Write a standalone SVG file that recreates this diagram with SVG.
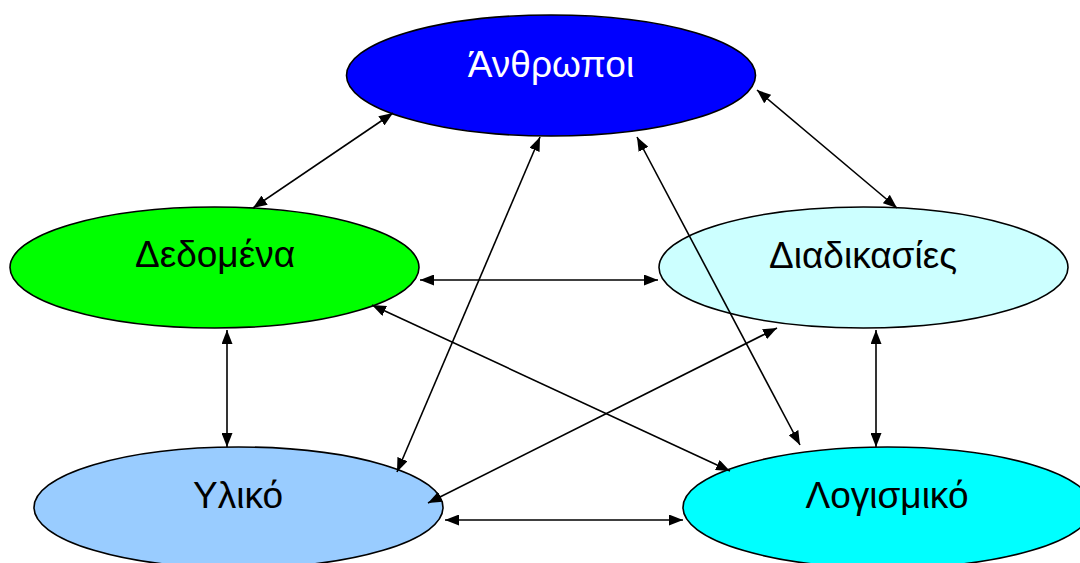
<svg xmlns="http://www.w3.org/2000/svg" width="1080" height="563" viewBox="0 0 1080 563">
  <defs>
    <marker id="arrow" viewBox="0 0 14 11" refX="14" refY="5.5" markerWidth="14" markerHeight="11" markerUnits="userSpaceOnUse" orient="auto-start-reverse">
      <path d="M0,0 L14,5.5 L0,11 z" fill="#000"/>
    </marker>
    <style>
      .node { stroke: #000; stroke-width: 1.6; }
      .label { font-family: "Liberation Sans", Arial, sans-serif; font-size: 37px; text-anchor: middle; fill: #000; }
      .edge { stroke: #000; stroke-width: 1.6; fill: none; marker-start: url(#arrow); marker-end: url(#arrow); }
    </style>
  </defs>
  <rect width="1080" height="563" fill="#fff"/>

  <g id="anthropoi">
    <ellipse class="node" cx="551" cy="75.5" rx="204.5" ry="60.5" fill="#0000ff"/>
    <text class="label" x="551" y="77" style="fill:#fff">Άνθρωποι</text>
  </g>
  <g id="dedomena">
    <ellipse class="node" cx="214.5" cy="267.5" rx="204.5" ry="60.5" fill="#00ff00"/>
    <text class="label" x="215" y="267">Δεδομένα</text>
  </g>
  <g id="diadikasies">
    <ellipse class="node" cx="863.5" cy="267.5" rx="204.5" ry="60.5" fill="#ccffff"/>
    <text class="label" x="863" y="268">Διαδικασίες</text>
  </g>
  <g id="yliko">
    <ellipse class="node" cx="238.5" cy="507.5" rx="204.5" ry="60.5" fill="#99ccff"/>
    <text class="label" x="238" y="508">Υλικό</text>
  </g>
  <g id="logismiko">
    <ellipse class="node" cx="887.5" cy="507.5" rx="204.5" ry="60.5" fill="#00ffff"/>
    <text class="label" x="887" y="508">Λογισμικό</text>
  </g>

  <g id="connectors">
    <line class="edge" x1="393" y1="113" x2="253" y2="208"/>
    <line class="edge" x1="757" y1="90" x2="897" y2="208"/>
    <line class="edge" x1="540" y1="137" x2="397" y2="472"/>
    <line class="edge" x1="637" y1="137" x2="800" y2="445"/>
    <line class="edge" x1="420" y1="280" x2="658" y2="280"/>
    <line class="edge" x1="372" y1="305" x2="730" y2="471"/>
    <line class="edge" x1="227" y1="330" x2="227" y2="447"/>
    <line class="edge" x1="777" y1="328" x2="428" y2="503"/>
    <line class="edge" x1="876" y1="330" x2="876" y2="447"/>
    <line class="edge" x1="445" y1="520" x2="683" y2="520"/>
  </g>
</svg>
